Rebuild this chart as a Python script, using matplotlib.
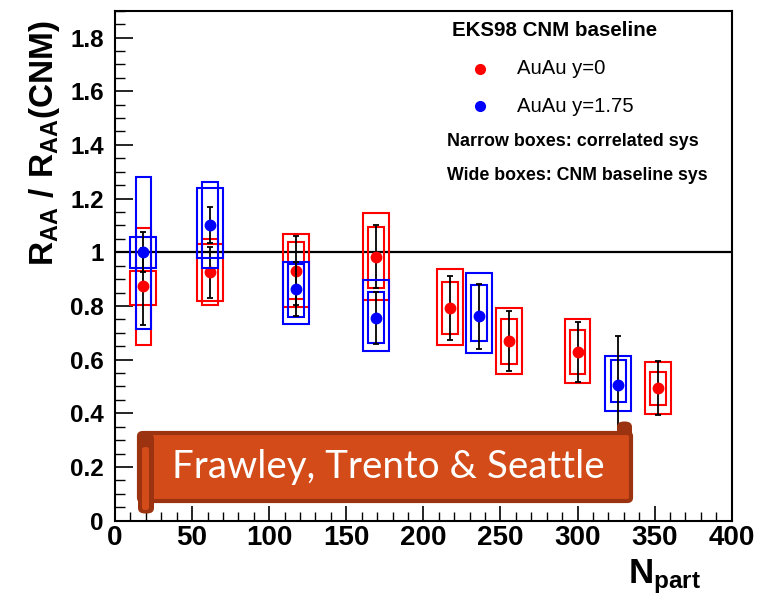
import matplotlib
matplotlib.use("Agg")
import matplotlib.pyplot as plt
from matplotlib.patches import Rectangle, FancyBboxPatch
from matplotlib.lines import Line2D
from matplotlib.ticker import FixedLocator, FixedFormatter, MultipleLocator

plt.rcParams['font.family'] = ['Liberation Sans', 'DejaVu Sans']
plt.rcParams['mathtext.fontset'] = 'custom'
plt.rcParams['mathtext.bf'] = 'Liberation Sans:bold'
plt.rcParams['mathtext.rm'] = 'Liberation Sans:bold'
plt.rcParams['mathtext.it'] = 'Liberation Sans:bold'

# ---------------- data ----------------
# AuAu y=0 (red)
npart_y0 = [18.4, 61.6, 117.4, 169.3, 217.3, 255.6, 300.0, 352.3]
raa_y0 = [0.873, 0.926, 0.932, 0.984, 0.792, 0.668, 0.628, 0.495]
stat_y0 = [0.143, 0.095, 0.129, 0.118, 0.118, 0.112, 0.112, 0.100]
corr_lo_y0 = [0.656, 0.803, 0.827, 0.868, 0.694, 0.583, 0.548, 0.430]
corr_hi_y0 = [1.090, 1.048, 1.038, 1.093, 0.889, 0.753, 0.709, 0.554]
cnm_lo_y0 = [0.805, 0.818, 0.798, 0.821, 0.653, 0.548, 0.512, 0.399]
cnm_hi_y0 = [0.932, 1.029, 1.069, 1.147, 0.939, 0.794, 0.750, 0.591]

# AuAu y=1.75 (blue)
npart_y175 = [18.4, 61.6, 117.4, 169.3, 236.1, 326.4]
raa_y175 = [1.000, 1.102, 0.862, 0.755, 0.761, 0.505]
stat_y175 = [0.075, 0.066, 0.100, 0.098, 0.120, 0.182]
corr_lo_y175 = [0.713, 0.942, 0.759, 0.662, 0.669, 0.443]
corr_hi_y175 = [1.279, 1.261, 0.955, 0.852, 0.879, 0.600]
cnm_lo_y175 = [0.942, 0.978, 0.734, 0.632, 0.626, 0.408]
cnm_hi_y175 = [1.056, 1.240, 0.963, 0.898, 0.924, 0.612]

xticks = [0, 50, 100, 150, 200, 250, 300, 350, 400]
xtick_labels = ['0', '50', '100', '150', '200', '250', '300', '350', '400']
yticks = [0, 0.2, 0.4, 0.6, 0.8, 1.0, 1.2, 1.4, 1.6, 1.8]
ytick_labels = ['0', '0.2', '0.4', '0.6', '0.8', '1', '1.2', '1.4', '1.6', '1.8']

legend_title = 'EKS98 CNM baseline'
legend_labels = ['AuAu y=0', 'AuAu y=1.75']
note_lines = ['Narrow boxes: correlated sys', 'Wide boxes: CNM baseline sys']
banner_text = 'Frawley, Trento & Seattle'

RED = '#FF0000'
BLUE = '#0000FF'
NARROW_HW = 5.0
WIDE_HW = 8.4

W, H = 762, 598
fig = plt.figure(figsize=(W / 100, H / 100), dpi=100)
ax = fig.add_axes([115 / W, 1 - 520.7 / H, (731.7 - 115) / W, (520.7 - 10.7) / H])
ax.set_xlim(0, 400)
ax.set_ylim(0, 1.9)

ax.axhline(1.0, color='black', lw=1.6, zorder=2)


def draw_series(xs, ys, errs, clo, chi, wlo, whi, color, z):
    for x, lo, hi in zip(xs, wlo, whi):
        ax.add_patch(Rectangle((x - WIDE_HW, lo), 2 * WIDE_HW, hi - lo, fill=False,
                               ec=color, lw=1.5, zorder=z))
    for x, lo, hi in zip(xs, clo, chi):
        ax.add_patch(Rectangle((x - NARROW_HW, lo), 2 * NARROW_HW, hi - lo, fill=False,
                               ec=color, lw=1.5, zorder=z))
    ax.errorbar(xs, ys, yerr=errs, fmt='none', ecolor='black', elinewidth=1.3,
                capsize=2.2, capthick=1.3, zorder=z + 1)
    ax.plot(xs, ys, 'o', color=color, ms=7.5, mec=color, zorder=z + 2, ls='none')


draw_series(npart_y0, raa_y0, stat_y0, corr_lo_y0, corr_hi_y0, cnm_lo_y0, cnm_hi_y0, RED, 3)
draw_series(npart_y175, raa_y175, stat_y175, corr_lo_y175, corr_hi_y175, cnm_lo_y175, cnm_hi_y175, BLUE, 6)

# axes styling
for s in ax.spines.values():
    s.set_linewidth(1.5)
ax.xaxis.set_major_locator(FixedLocator(xticks))
ax.xaxis.set_major_formatter(FixedFormatter(xtick_labels))
ax.xaxis.set_minor_locator(MultipleLocator(10))
ax.yaxis.set_major_locator(FixedLocator(yticks))
ax.yaxis.set_major_formatter(FixedFormatter(ytick_labels))
ax.yaxis.set_minor_locator(MultipleLocator(0.05))
ax.tick_params(axis='x', which='major', direction='in', length=11, width=1.2,
               labelsize=20, pad=3, top=False)
ax.tick_params(axis='x', which='minor', direction='in', length=6.5, width=1.0, top=False)
ax.tick_params(axis='y', which='major', direction='in', length=13, width=1.2,
               labelsize=17.5, pad=8, right=False)
ax.tick_params(axis='y', which='minor', direction='in', length=7, width=1.0, right=False)
for lab in ax.get_xticklabels() + ax.get_yticklabels():
    lab.set_fontweight('bold')

ax.set_ylabel(r'$\mathbf{R_{AA}\ /\ R_{AA}(CNM)}$', fontsize=24)
ax.yaxis.set_label_coords((62 - 115) / (731.7 - 115), (520.7 - 143) / 510)
ax.set_xlabel(r'$\mathbf{N_{part}}$', fontsize=25)
ax.xaxis.set_label_coords((665 - 115) / (731.7 - 115), (520.7 - 557) / 510)
ax.xaxis.label.set_horizontalalignment('center')


def fx(x):
    return x / W


def fy(y):
    return 1 - y / H


# legend block
fig.text(fx(452), fy(31), legend_title, fontsize=14.8, fontweight='bold', ha='left', va='center')
fig.add_artist(Line2D([fx(480)], [fy(69)], marker='o', color=RED, ms=7, ls='none',
                      transform=fig.transFigure))
fig.add_artist(Line2D([fx(480)], [fy(106)], marker='o', color=BLUE, ms=7, ls='none',
                      transform=fig.transFigure))
fig.text(fx(517), fy(69), legend_labels[0], fontsize=14.6, ha='left', va='center')
fig.text(fx(517), fy(106), legend_labels[1], fontsize=14.6, ha='left', va='center')
fig.text(fx(447), fy(141), note_lines[0], fontsize=12.9, fontweight='bold', ha='left', va='center')
fig.text(fx(447), fy(175), note_lines[1], fontsize=12.8, fontweight='bold', ha='left', va='center')

# banner (scroll shape)
FILL = '#D24B19'
DARK = '#9C3310'


def rbox(x0, y0, x1, y1, fc, ec, lw, r, z):
    p = FancyBboxPatch((fx(x0), fy(y1)), fx(x1) - fx(x0), fy(y0) - fy(y1),
                       boxstyle=f"round,pad=0,rounding_size={r / W}",
                       fc=fc, ec=ec, lw=lw, transform=fig.transFigure, zorder=z)
    fig.add_artist(p)


rbox(617, 421.5, 632, 445, DARK, DARK, 0, 7, 10)
rbox(139, 433, 631, 501, FILL, DARK, 3, 4, 11)
rbox(138, 433, 154, 513.5, DARK, DARK, 0, 7, 12)
rbox(142, 447, 149, 510, FILL, FILL, 0, 3, 13)
fig.text(fx(388), fy(467), banner_text, fontsize=27.7, color='white', family='Lato',
         ha='center', va='center', zorder=14)

fig.savefig('out.png', dpi=100)
